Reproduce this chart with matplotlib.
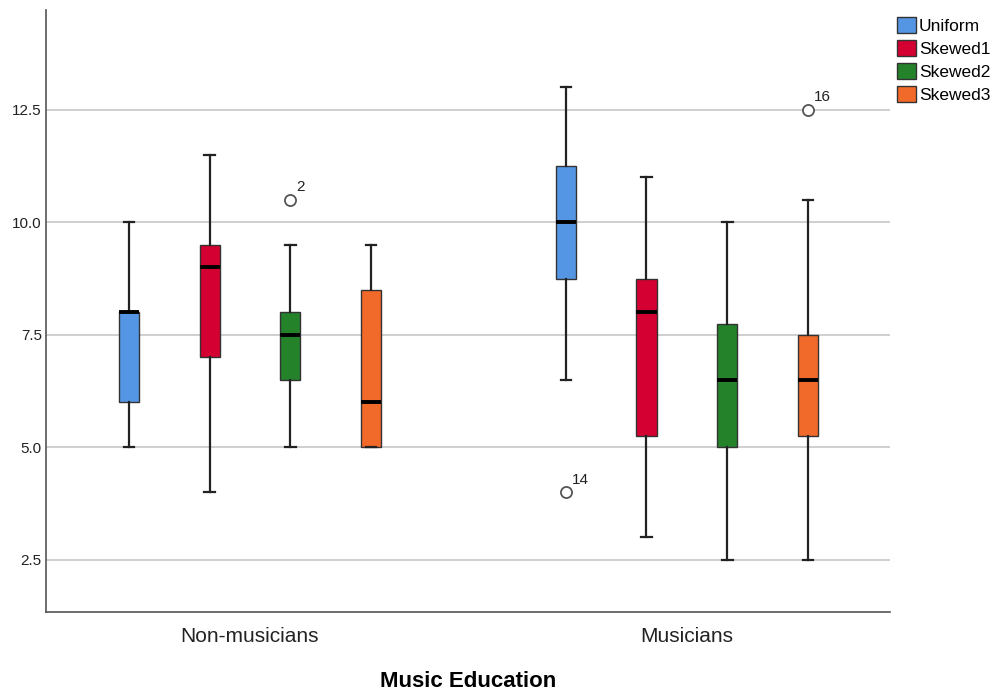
import matplotlib.pyplot as plt

plt.rcParams['font.family'] = ['Liberation Sans', 'DejaVu Sans']

groups = ['Non-musicians', 'Musicians']
series = ['Uniform', 'Skewed1', 'Skewed2', 'Skewed3']
colors = ['#5596e4', '#d50032', '#24822a', '#f26a2a']

# (whislo, q1, med, q3, whishi) per group, per series
stats_non = [(5, 6, 8, 8, 10), (4, 7, 9, 9.5, 11.5), (5, 6.5, 7.5, 8, 9.5), (5, 5, 6, 8.5, 9.5)]
stats_mus = [(6.5, 8.75, 10, 11.25, 13), (3, 5.25, 8, 8.75, 11), (2.5, 5, 6.5, 7.75, 10), (2.5, 5.25, 6.5, 7.5, 10.5)]
# outliers: (group index, series index, value, case label)
outliers = [(0, 2, 10.5, '2'), (1, 0, 4, '14'), (1, 3, 12.5, '16')]

fig = plt.figure(figsize=(9.97, 6.93), dpi=100)
ax = fig.add_axes([0.0461, 0.1169, 0.8466, 0.8687])

offsets = [-0.277, -0.0925, 0.0925, 0.277]
width = 0.046

for g, stats in enumerate([stats_non, stats_mus]):
    for s, (lo, q1, med, q3, hi) in enumerate(stats):
        st = dict(whislo=lo, q1=q1, med=med, q3=q3, whishi=hi, fliers=[])
        ax.bxp([st], positions=[g + offsets[s]], widths=width, patch_artist=True,
               showfliers=False,
               boxprops=dict(facecolor=colors[s], edgecolor='#333333', linewidth=1),
               medianprops=dict(color='black', linewidth=2.8),
               whiskerprops=dict(color='#222222', linewidth=1.6),
               capprops=dict(color='#222222', linewidth=1.6),
               capwidths=0.024, zorder=3)

for g, s, v, lab in outliers:
    x = g + offsets[s]
    ax.plot(x, v, 'o', mfc='white', mec='#555555', mew=1.3, ms=8, zorder=4)
    ax.text(x + 0.013, v + 0.12, lab, fontsize=11, ha='left', va='bottom', color='#222222')

ax.set_xlim(-0.467, 1.465)
ax.set_ylim(1.34, 14.72)
ax.set_yticks([2.5, 5.0, 7.5, 10.0, 12.5])
ax.set_yticklabels(['2.5', '5.0', '7.5', '10.0', '12.5'], fontsize=11, color='#222222')
ax.set_xticks([0, 1])
ax.set_xticklabels(groups, fontsize=15, color='#222222')
ax.tick_params(length=0, pad=3)
ax.tick_params(axis='x', pad=11)
ax.grid(axis='y', color='#cccccc', linewidth=1.3, zorder=0)
ax.set_axisbelow(True)
for sp in ['top', 'right']:
    ax.spines[sp].set_visible(False)
for sp in ['left', 'bottom']:
    ax.spines[sp].set_color('#555555')
    ax.spines[sp].set_linewidth(1.2)

ax.set_xlabel('Music Education', fontsize=16, fontweight='bold', labelpad=18)

handles = [plt.Rectangle((0, 0), 1, 1, facecolor=c, edgecolor='#333333') for c in colors]
fig.legend(handles, series, loc='upper left', bbox_to_anchor=(0.893, 0.986), frameon=False,
           fontsize=12.5, handlelength=1.1, handleheight=1.1, handletextpad=0.15,
           labelspacing=0.33, borderaxespad=0)

fig.savefig('out.png', dpi=100)
